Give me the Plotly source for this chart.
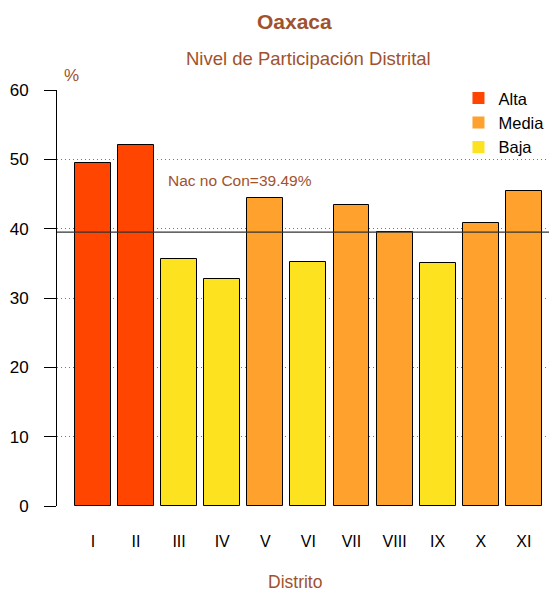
import plotly.graph_objects as go

distritos = ["I", "II", "III", "IV", "V", "VI", "VII", "VIII", "IX", "X", "XI"]
participacion = [49.5, 52.0, 35.6, 32.7, 44.4, 35.2, 43.4, 39.5, 35.0, 40.8, 45.4]
nivel = ["Alta", "Alta", "Baja", "Baja", "Media", "Baja", "Media", "Media", "Baja", "Media", "Media"]
niveles = ["Alta", "Media", "Baja"]
colores = {"Alta": "#FF4500", "Media": "#FFA22D", "Baja": "#FDE21F"}
nac_no_con = 39.49
y_ticks = [0, 10, 20, 30, 40, 50, 60]

# bar centres as in R barplot (width 1, space 0.2)
xpos = [0.7 + 1.2 * i for i in range(len(distritos))]

SIENNA = "#A0522D"
FONT = "Liberation Sans, Arial, sans-serif"

W, H = 549, 592
ML, MR, MT, MB = 57, 0, 90, 86


def px_x(px):
    return (px - ML) / (W - ML - MR)


def px_y(py):
    return (H - MB - py) / (H - MT - MB)


fig = go.Figure()
for lv in niveles:
    xs = [x for x, n in zip(xpos, nivel) if n == lv]
    ys = [v for v, n in zip(participacion, nivel) if n == lv]
    fig.add_trace(go.Bar(x=xs, y=ys, width=1.0, name=lv, showlegend=False,
                         marker=dict(color=colores[lv], line=dict(color="black", width=1))))
for lv in niveles:
    fig.add_trace(go.Scatter(x=[None], y=[None], mode="markers", name=lv,
                             marker=dict(symbol="square", size=12, color=colores[lv])))

# reference line
fig.add_shape(type="line", xref="paper", yref="y", x0=0, x1=1, y0=nac_no_con, y1=nac_no_con,
              line=dict(color="#333333", width=1.3), layer="above")
fig.add_annotation(x=4.8, y=47, xref="x", yref="y", text=f"Nac no Con={nac_no_con:.2f}%",
                   showarrow=False, font=dict(color=SIENNA, size=15.5, family=FONT))

fig.update_layout(
    width=W, height=H,
    margin=dict(l=ML, r=MR, t=MT, b=MB, pad=0, autoexpand=False),
    plot_bgcolor="white", paper_bgcolor="white",
    font=dict(family=FONT, size=16, color="black"),
    bargap=0,
    xaxis=dict(range=[-0.3, 13.4], tickvals=xpos, ticktext=distritos, ticks="",
               showgrid=False, zeroline=False, showline=False, ticklabelstandoff=24,
               tickfont=dict(size=16)),
    yaxis=dict(range=[0, 60], tickvals=y_ticks, showgrid=True, gridcolor="#777777",
               griddash="1px,3px", gridwidth=1, zeroline=False, showline=True, linecolor="black",
               linewidth=1, ticks="outside", ticklen=12, tickcolor="black",
               ticklabelstandoff=12, tickfont=dict(size=17)),
    legend=dict(x=0.816, y=1.022, xanchor="left", yanchor="top", bgcolor="rgba(0,0,0,0)",
                font=dict(size=16.5), itemsizing="constant"),
    showlegend=True,
)

fig.add_annotation(x=px_x(294), y=px_y(22), xref="paper", yref="paper", yanchor="middle",
                   xanchor="center", text="<b>Oaxaca</b>", showarrow=False,
                   font=dict(color=SIENNA, size=21, family=FONT))
fig.add_annotation(x=px_x(308.5), y=px_y(59), xref="paper", yref="paper", yanchor="middle",
                   xanchor="center", text="Nivel de Participación Distrital", showarrow=False,
                   font=dict(color=SIENNA, size=18.5, family=FONT))
fig.add_annotation(x=px_x(71), y=px_y(76), xref="paper", yref="paper", yanchor="middle",
                   xanchor="center", text="%", showarrow=False,
                   font=dict(color=SIENNA, size=17, family=FONT))
fig.add_annotation(x=px_x(294.5), y=px_y(582), xref="paper", yref="paper", yanchor="middle",
                   xanchor="center", text="Distrito", showarrow=False,
                   font=dict(color=SIENNA, size=17.5, family=FONT))

fig.write_html("out.html", config={"displayModeBar": False},
               post_script="document.body.style.margin='0';")
